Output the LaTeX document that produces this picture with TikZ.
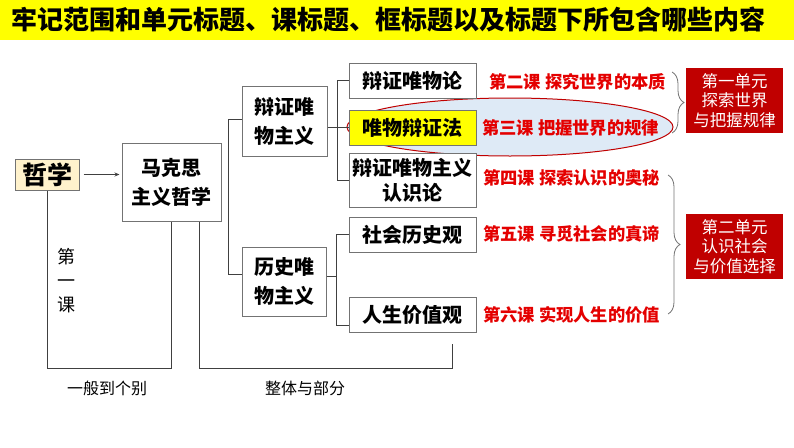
\documentclass[tikz,border=0pt]{standalone}
\usepackage{fontspec}
\setmainfont{Noto Sans CJK SC}
\usetikzlibrary{arrows.meta,decorations.pathreplacing}
\definecolor{titley}{RGB}{255,255,0}
\definecolor{cream}{RGB}{255,242,204}
\definecolor{markyellow}{RGB}{255,255,0}
\definecolor{lessonred}{RGB}{228,0,0}
\definecolor{unitred}{RGB}{192,0,0}
\definecolor{ovalblue}{RGB}{222,234,246}
\begin{document}
\begin{tikzpicture}[x=1pt,y=-1pt,
    box/.style={draw=black!55,line width=1pt,fill=white,align=center,inner sep=0pt},
    bigtxt/.style={font=\fontsize{20}{29}\selectfont\bfseries},
    lesson/.style={anchor=west,inner sep=0pt,text=lessonred,font=\fontsize{17.3}{19}\selectfont\bfseries},
    unit/.style={fill=unitred,text=white,align=center,inner sep=0pt,minimum width=97,minimum height=65,font=\fontsize{16.5}{19.5}\selectfont},
    link/.style={draw=black!75,line width=0.8pt},
    unitbrace/.style={draw=black!55,line width=0.8pt,decorate,decoration={brace,amplitude=12pt}},
    note/.style={font=\fontsize{16}{18}\selectfont}]
    \useasboundingbox (0,0) rectangle (794,447);
    % title band
    \fill[titley] (0,0) rectangle (794,40);
    \node[font=\fontsize{26}{30}\selectfont\bfseries] (title) at (388,20) {牢记范围和单元标题、课标题、框标题以及标题下所包含哪些内容};

    % oval behind 唯物辩证法
    \draw[fill=ovalblue,draw=unitred,line width=1pt] (510,127) ellipse [x radius=163, y radius=29];

    \node[box,fill=cream,minimum width=64,minimum height=31,font=\fontsize{25}{28}\selectfont\bfseries] (zx) at (47,174.5) {哲学};
    \node[box,bigtxt,minimum width=99,minimum height=78] (mk) at (171.5,182) {马克思\\主义哲学};
    \node[box,bigtxt,minimum width=85,minimum height=70] (bz) at (284.5,121) {辩证唯\\物主义};
    \node[box,bigtxt,minimum width=84,minimum height=69] (ls) at (284,281.5) {历史唯\\物主义};

    \node[box,bigtxt,minimum width=127,minimum height=35] (wl) at (412.5,80.5) {辩证唯物论};
    \node[box,bigtxt,fill=markyellow,minimum width=127,minimum height=35] (bf) at (412.5,127.5) {唯物辩证法};
    \node[box,bigtxt,font=\fontsize{20}{25}\selectfont\bfseries,minimum width=127,minimum height=54] (rs) at (412.5,180) {辩证唯物主义\\认识论};
    \node[box,bigtxt,minimum width=127,minimum height=35] (sh) at (412.5,234.5) {社会历史观};
    \node[box,bigtxt,minimum width=127,minimum height=35] (rz) at (412.5,314.5) {人生价值观};

    \node[lesson] (l2) at (489,82) {第二课 探究世界的本质};
    \node[lesson] (l3) at (482,128) {第三课 把握世界的规律};
    \node[lesson] (l4) at (483,178) {第四课 探索认识的奥秘};
    \node[lesson] (l5) at (483,234) {第五课 寻觅社会的真谛};
    \node[lesson] (l6) at (483,315) {第六课 实现人生的价值};

    \node[unit] (u1) at (734.5,100.5) {第一单元\\探索世界\\与把握规律};
    \node[unit] (u2) at (734.5,246.5) {第二单元\\认识社会\\与价值选择};

    \node[align=center,font=\fontsize{18}{24}\selectfont] (dyk) at (66,281) {第\\一\\课};
    \node[note] (yb) at (107,388) {一般到个别};
    \node[note] (zt) at (305,388) {整体与部分};

    \coordinate (bot) at (0,368);
    \coordinate (sa) at (228,0);
    \coordinate (sb) at (337,0);
    \coordinate (sc) at (336,0);
    \coordinate (ze) at (452,344);

    % connectors
    \draw[link,-{Stealth[length=5pt,width=4pt]},shorten <=4pt,shorten >=2pt] (zx.east) -- (zx.east -| mk.west);
    \draw[link] (zx.south) |- (bot -| mk.south) -- (mk.south);
    \draw[link] ([xshift=27.5pt]mk.south) |- (bot -| ze) -- (ze);
    \draw[link] ([yshift=2pt]bz.west) -- ([yshift=2pt]bz.west -| sa) |- ([yshift=7pt]ls.west);
    \draw[link] (bz.east |- bf.west) -- (bf.west);
    \draw[link] (wl.west) -- (wl.west -| sb) |- (rs.west);
    \draw[link] ([yshift=5pt]ls.east) -- ([yshift=5pt]ls.east -| sc);
    \draw[link] (sh.west) -- (sh.west -| sc) |- ([yshift=-11pt]rz.west);

    % braces
    \draw[unitbrace] (672,72) -- (672,133);
    \draw[unitbrace] (668,175) -- (668,314);
\end{tikzpicture}
\end{document}
